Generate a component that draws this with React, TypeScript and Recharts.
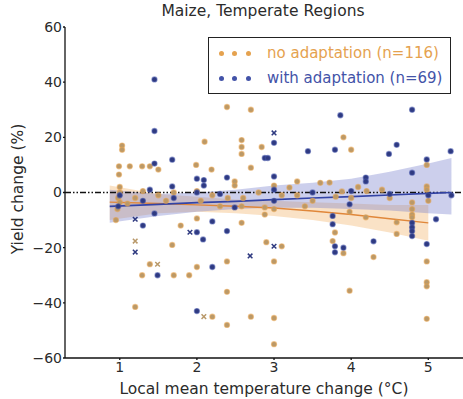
import {
  ComposedChart,
  Area,
  Line,
  Scatter,
  XAxis,
  YAxis,
  ReferenceLine,
  Legend,
} from "recharts";

const xTicks = [1, 2, 3, 4, 5];
const yTicks = [-60, -40, -20, 0, 20, 40, 60];

// confidence bands and fitted curves, sampled along local warming
const bandX = [0.87, 1.5, 2, 2.5, 3, 3.5, 4, 4.5, 5, 5.3];
const blueFit = [-5, -4.3, -3.7, -3.2, -2.6, -2.0, -1.5, -0.9, -0.3, 0];
const blueLow = [-11, -8.5, -7, -6, -5.5, -5.5, -6, -6.5, -7.5, -8];
const blueHigh = [1, -0.5, 0, 1, 2.5, 3.5, 5, 7.5, 10.5, 12.5];
const orangeFit = [-3.5, -4, -4.5, -5, -5.6, -6.7, -8, -9.5, -11, null];
const orangeLow = [-10, -7.5, -7, -7.5, -8.5, -10, -12, -14.5, -17.5, null];
const orangeHigh = [2.5, -0.5, -1.5, -2.5, -3, -3.5, -4, -4.5, -4.5, null];

// no adaptation (orange)
const orangeDots: [number, number][] = [
  [1.03, 17], [1.03, 15.5], [0.99, 9.5], [1.13, 9.5], [1.29, 9.5], [1.39, 9.5],
  [1.5, 8.3], [0.99, 6.5], [1.0, 2], [1.0, 0], [0.98, -2], [1.0, -3.5],
  [0.97, -6], [0.95, -10], [1.2, -41.5], [1.39, -26], [1.29, -30], [1.7, -30],
  [1.9, -30], [1.79, -12], [1.68, -19], [2.0, -9.4], [1.99, 10], [2.19, 8.3],
  [2.1, 18.4], [2.0, -27], [2.2, -45], [2.39, 31], [2.7, 30], [2.58, 19],
  [2.58, 16.5], [2.58, 14], [2.84, 16.5], [2.7, 9], [2.49, 4], [2.49, 2.5],
  [2.58, -5], [2.88, -5.4], [2.88, -8], [2.58, -11], [2.9, -18], [3.1, -19.5],
  [2.39, -25], [3.0, -25], [2.39, -36], [2.39, -48], [2.7, -45], [3.0, -45.5],
  [3.0, -55], [3.3, 4], [3.6, 3.5], [3.0, 2.5], [3.2, 1.8], [3.72, 3.6],
  [3.9, 20], [3.88, 0.4], [3.79, -14.5], [3.76, -17.6], [3.9, -22], [4.0, 15.5],
  [4.09, 2], [3.98, -7], [4.79, -3.6], [4.79, -6], [4.79, -8], [4.79, -9],
  [4.19, -9], [4.59, -10.8], [4.59, -15], [4.29, -23.4], [4.98, -25], [4.98, -32.5],
  [4.98, -34], [3.98, -35.6], [4.98, -45.8], [4.98, 10], [4.98, 2.2], [4.98, 1],
  [1.5, -1], [1.7, 0], [2.0, 0.5], [2.2, -1], [2.4, -2], [2.8, 0],
  [3.3, -1], [3.5, -3], [3.8, -1.5], [4.2, 0.5], [4.5, -2], [1.2, -2],
  [1.3, 0.5], [2.05, -3], [3.0, -6], [3.4, -5], [2.3, -5], [1.1, -4],
  [1.6, -3], [2.6, -2], [3.1, -1], [4.0, -2], [4.4, 1], [5.0, -3],
];
const orangeCrosses: [number, number][] = [
  [1.2, -17.6], [2.09, -45], [1.49, -26],
];

// with adaptation (blue)
const blueDots: [number, number][] = [
  [1.45, 41], [1.45, 22.3], [1.45, 10.5], [1.68, 11.9], [2.0, 5], [2.09, 4.5],
  [2.09, 2.5], [1.39, 1], [1.68, 2.2], [0.98, -5], [1.3, -12], [1.45, -7.6],
  [2.0, -14.4], [2.08, -17], [2.2, -10.5], [2.2, -27], [2.0, -43], [1.49, -30],
  [2.39, 5.4], [3.0, 18], [2.88, 12.5], [2.92, 12.5], [3.44, 15], [3.79, 15.5],
  [3.0, 5.8], [3.86, 28], [2.49, -5.4], [2.39, -14], [3.76, -8.5], [3.76, -11.5],
  [3.79, -19.5], [3.79, -21.7], [3.9, -20], [4.49, 14], [4.59, 17.3], [4.79, 30],
  [5.29, 15], [4.98, 12], [4.79, 7.2], [4.19, 5.4], [4.19, 4], [3.98, -4.3],
  [4.79, -11], [4.79, -12.6], [4.79, -14], [4.79, -15.8], [5.1, -9.7], [4.98, -18.7],
  [4.29, -17.7], [3.0, 1], [3.0, -3], [1.0, -1], [1.3, -3], [2.0, 0],
  [2.3, -0.5], [3.5, 0], [4.0, 0.5], [4.5, -0.5], [5.0, -1], [5.3, -1],
  [1.7, -2],
];
const blueCrosses: [number, number][] = [
  [1.2, -9.7], [1.2, -21.6], [1.91, -14.4], [3.0, 21.6], [3.0, -19.5], [2.69, -23],
];

const ORANGE = "#E5A24F";
const ORANGE_DARK = "#B9996A";
const BLUE = "#4353A8";
const BLUE_DARK = "#2F3A80";
const TEXT = "#2b2b2b";

const bandData = bandX.map((x, i) => ({
  x,
  blueFit: blueFit[i],
  blueBand: [blueLow[i], blueHigh[i]],
  orangeFit: orangeFit[i],
  orangeBand: orangeLow[i] == null ? null : [orangeLow[i], orangeHigh[i]],
}));

const toPoints = (pts: [number, number][]) => pts.map(([x, y]) => ({ x, y }));

const dot = (fill: string, stroke: string) => (p: any) => (
  <circle cx={p.cx} cy={p.cy} r={2.5} fill={fill} stroke={stroke} strokeWidth={1.3} strokeOpacity={0.55} />
);

const cross = (color: string) => (p: any) => (
  <path
    d={`M${p.cx - 2.3},${p.cy - 2.3}L${p.cx + 2.3},${p.cy + 2.3}M${p.cx - 2.3},${p.cy + 2.3}L${p.cx + 2.3},${p.cy - 2.3}`}
    stroke={color}
    strokeWidth={1.5}
  />
);

const fmt = (v: number) => (v < 0 ? `\u2212${Math.abs(v)}` : `${v}`);

function LegendBox() {
  const row = (color: string, label: string, top: number) => (
    <div style={{ position: "absolute", left: 0, top, height: 20 }}>
      {[12, 25, 39].map((l) => (
        <span
          key={l}
          style={{
            position: "absolute",
            left: l - 2.5,
            width: 5,
            height: 5,
            borderRadius: "50%",
            background: color,
            top: 8,
          }}
        />
      ))}
      <span
        style={{
          position: "absolute",
          left: 58,
          top: 0,
          lineHeight: "20px",
          whiteSpace: "nowrap",
          color,
          fontSize: 15,
        }}
      >
        {label}
      </span>
    </div>
  );
  return (
    <div
      style={{
        width: 243,
        height: 57,
        border: "1.5px solid #222",
        boxSizing: "border-box",
        background: "#fff",
        position: "relative",
        fontFamily: "'DejaVu Sans', sans-serif",
      }}
    >
      {row(ORANGE, "no adaptation (n=116)", 5)}
      {row(BLUE, "with adaptation (n=69)", 30)}
    </div>
  );
}

export default function App() {
  return (
    <div
      style={{
        position: "absolute",
        left: 0,
        top: 0,
        width: 463,
        height: 399,
        background: "#fff",
        fontFamily: "'DejaVu Sans', sans-serif",
      }}
    >
      <ComposedChart
        width={463}
        height={399}
        data={bandData}
        margin={{ top: 27, right: 0, bottom: 0, left: 25 }}
      >
        <XAxis
          dataKey="x"
          type="number"
          domain={[0.29, 5.45]}
          ticks={xTicks}
          allowDataOverflow
          height={41}
          tickSize={2}
          tickMargin={2}
          stroke="#111"
          strokeWidth={1.3}
          tick={{ fill: TEXT, fontSize: 14 }}
          label={{
            value: "Local mean temperature change (\u00B0C)",
            position: "insideBottom",
            offset: 5,
            fill: TEXT,
            fontSize: 15.5,
          }}
        />
        <XAxis
          xAxisId="top"
          orientation="top"
          dataKey="x"
          type="number"
          domain={[0.29, 5.45]}
          ticks={xTicks}
          height={0}
          tickLine={false}
          tick={false}
          stroke="#111"
          strokeWidth={1.3}
        />
        <YAxis
          type="number"
          domain={[-60, 60]}
          ticks={yTicks}
          width={40}
          tickSize={2}
          tickMargin={1}
          tickFormatter={fmt}
          stroke="#111"
          strokeWidth={1.3}
          tick={{ fill: TEXT, fontSize: 14 }}
        />
        <Legend
          layout="horizontal"
          verticalAlign="middle"
          align="center"
          wrapperStyle={{ position: "absolute", left: 208, top: 37, width: 243, height: 57 }}
          content={() => <LegendBox />}
        />
        <Area
          dataKey="orangeBand"
          stroke="none"
          fill="#F2B46A"
          fillOpacity={0.38}
          isAnimationActive={false}
          connectNulls={false}
        />
        <Area
          dataKey="blueBand"
          stroke="none"
          fill="#7880CC"
          fillOpacity={0.38}
          isAnimationActive={false}
        />
        <ReferenceLine y={0} stroke="#111" strokeWidth={1.3} strokeDasharray="6 2 1.5 2 1.5 2" />
        <Line dataKey="orangeFit" stroke="#E0873A" strokeWidth={1.4} dot={false} isAnimationActive={false} />
        <Line dataKey="blueFit" stroke="#3344A6" strokeWidth={1.7} dot={false} isAnimationActive={false} />
        <Scatter data={toPoints(orangeDots)} dataKey="y" shape={dot(ORANGE_DARK, ORANGE)} isAnimationActive={false} />
        <Scatter data={toPoints(orangeCrosses)} dataKey="y" shape={cross(ORANGE_DARK)} isAnimationActive={false} />
        <Scatter data={toPoints(blueDots)} dataKey="y" shape={dot(BLUE_DARK, BLUE)} isAnimationActive={false} />
        <Scatter data={toPoints(blueCrosses)} dataKey="y" shape={cross(BLUE_DARK)} isAnimationActive={false} />
      </ComposedChart>
      <div
        style={{
          position: "absolute",
          top: 2,
          left: 65,
          width: 396,
          textAlign: "center",
          fontSize: 15.5,
          color: TEXT,
          whiteSpace: "nowrap",
        }}
      >
        Maize, Temperate Regions
      </div>
      <div
        style={{
          position: "absolute",
          left: 18,
          top: 189,
          transform: "translate(-50%, -50%) rotate(-90deg)",
          fontSize: 15.5,
          color: TEXT,
          whiteSpace: "nowrap",
        }}
      >
        Yield change (%)
      </div>
    </div>
  );
}
